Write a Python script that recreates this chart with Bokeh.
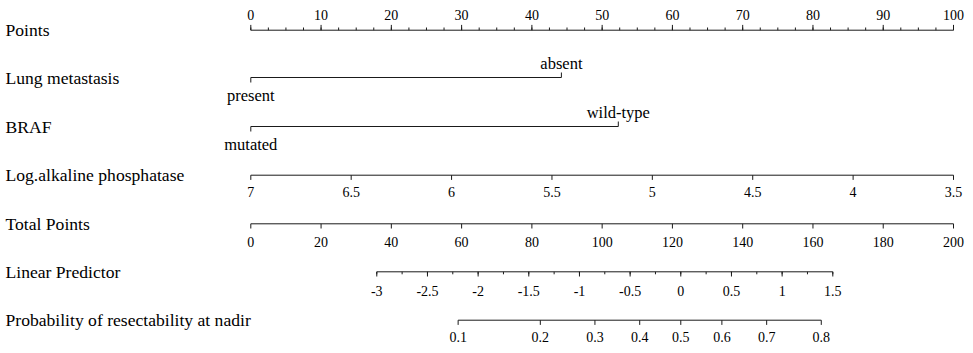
import math
from bokeh.plotting import figure
from bokeh.models import ColumnDataSource, Range1d
from bokeh.core.properties import value
from bokeh.embed import file_html
from bokeh.resources import INLINE

# ---------------- data ----------------
row_labels = ["Points", "Lung metastasis", "BRAF", "Log.alkaline phosphatase",
              "Total Points", "Linear Predictor", "Probability of resectability at nadir"]

points_ticks = [0, 10, 20, 30, 40, 50, 60, 70, 80, 90, 100]
points_minor = [2.5 * i for i in range(41)]

lung_levels = ["present", "absent"]
lung_points = [0.0, 44.2]

braf_levels = ["mutated", "wild-type"]
braf_points = [0.0, 52.3]

alp_ticks = [7, 6.5, 6, 5.5, 5, 4.5, 4, 3.5]
alp_labels = ["7", "6.5", "6", "5.5", "5", "4.5", "4", "3.5"]
alp_zero, alp_full = 7.0, 3.5          # value giving 0 points / 100 points

total_ticks = [0, 20, 40, 60, 80, 100, 120, 140, 160, 180, 200]
total_max = 200

lp_ticks = [-3, -2.5, -2, -1.5, -1, -0.5, 0, 0.5, 1, 1.5]
lp_labels = ["-3", "-2.5", "-2", "-1.5", "-1", "-0.5", "0", "0.5", "1", "1.5"]
lp_minor = [-3 + 0.25 * i for i in range(19)]
lp_intercept, lp_slope = -4.2433, 0.034672   # LP = intercept + slope * total points

prob_ticks = [0.1, 0.2, 0.3, 0.4, 0.5, 0.6, 0.7, 0.8]
prob_labels = ["0.1", "0.2", "0.3", "0.4", "0.5", "0.6", "0.7", "0.8"]

# ---------------- transforms to the points scale ----------------
def alp_to_pts(v):
    return (alp_zero - v) / (alp_zero - alp_full) * 100.0

def total_to_pts(t):
    return t / total_max * 100.0

def lp_to_pts(lp):
    return total_to_pts((lp - lp_intercept) / lp_slope)

def prob_to_pts(pr):
    return lp_to_pts(math.log(pr / (1 - pr)))

# ---------------- layout ----------------
W, H = 965, 345
px_per_pt = 7.027
x0_px = 258.3 - 8            # pixel of 0 points inside the figure
row_y = [37.7, 85, 134, 182.7, 231.3, 279.3, 327.7]
FONT = value("Liberation Serif")
LINE = "#1a1a1a"

p = figure(width=W, height=H, output_backend="svg", toolbar_location=None,
           x_range=Range1d(-x0_px / px_per_pt, (W - x0_px) / px_per_pt),
           y_range=Range1d(353, 8), min_border=0,
           x_axis_type=None, y_axis_type=None)
p.outline_line_color = None
p.xgrid.visible = False
p.ygrid.visible = False
p.background_fill_color = "white"
p.border_fill_color = "white"

label_x = (13 - 258.3) / px_per_pt

# row labels
p.text(x=[label_x] * len(row_labels), y=row_y, text=row_labels,
       text_font=FONT, text_font_size="17.6px", text_baseline="middle",
       text_align="left", text_color="black")


def scale(xs, y, labels, major_len, minor_xs=None, minor_len=0, up=False,
          label_off=17, size="14px"):
    sgn = -1 if up else 1
    p.segment(x0=[min(xs)], y0=[y], x1=[max(xs)], y1=[y], line_color=LINE, line_width=1)
    src = ColumnDataSource(dict(x=xs, y0=[y] * len(xs), y1=[y + sgn * major_len] * len(xs),
                                yl=[y + sgn * label_off] * len(xs), t=labels))
    p.segment(x0="x", y0="y0", x1="x", y1="y1", source=src, line_color=LINE, line_width=1)
    if minor_xs:
        p.segment(x0=minor_xs, y0=[y] * len(minor_xs), x1=minor_xs,
                  y1=[y + sgn * minor_len] * len(minor_xs), line_color=LINE, line_width=1)
    p.text(x="x", y="yl", text="t", source=src, text_font=FONT, text_font_size=size,
           text_align="center", text_baseline="middle", text_color="black")


# Points
scale(points_ticks, row_y[0], [str(v) for v in points_ticks], 5.3,
      minor_xs=points_minor, minor_len=2.7, up=True, label_off=15.5)

# categorical rows
for yy, levels, pts in [(row_y[1], lung_levels, lung_points), (row_y[2], braf_levels, braf_points)]:
    p.segment(x0=[pts[0]], y0=[yy], x1=[pts[1]], y1=[yy], line_color=LINE, line_width=1)
    p.segment(x0=[pts[0]], y0=[yy], x1=[pts[0]], y1=[yy + 5], line_color=LINE, line_width=1)
    p.segment(x0=[pts[1]], y0=[yy], x1=[pts[1]], y1=[yy - 5], line_color=LINE, line_width=1)
    p.text(x=[pts[0]], y=[yy + 18], text=[levels[0]], text_font=FONT, text_font_size="16.5px",
           text_align="center", text_baseline="middle", text_color="black")
    p.text(x=[pts[1]], y=[yy - 14.5], text=[levels[1]], text_font=FONT, text_font_size="16.5px",
           text_align="center", text_baseline="middle", text_color="black")

# Log.alkaline phosphatase
scale([alp_to_pts(v) for v in alp_ticks], row_y[3], alp_labels, 4.7, label_off=16.6)

# Total points
scale([total_to_pts(v) for v in total_ticks], row_y[4], [str(v) for v in total_ticks], 4.7,
      label_off=18)

# Linear predictor
scale([lp_to_pts(v) for v in lp_ticks], row_y[5], lp_labels, 4.7,
      minor_xs=[lp_to_pts(v) for v in lp_minor], minor_len=2.5, label_off=19)

# Probability
scale([prob_to_pts(v) for v in prob_ticks], row_y[6], prob_labels, 4.7, label_off=16.6)

open("out.html", "w").write(file_html(p, INLINE))
